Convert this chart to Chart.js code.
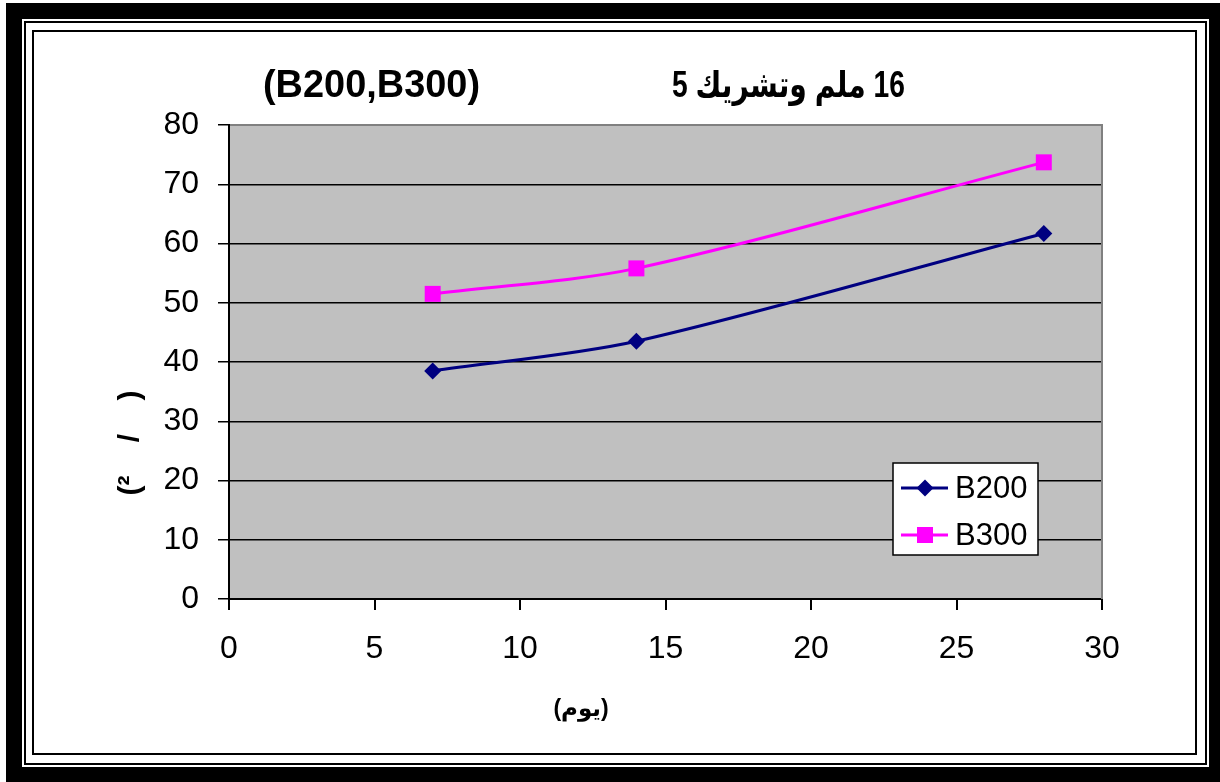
<!DOCTYPE html>
<html>
<head>
<meta charset="utf-8">
<script src="https://cdn.jsdelivr.net/npm/chart.js@4/dist/chart.umd.min.js"></script>
<style>
  html, body { margin: 0; padding: 0; background: #fff; }
  body { width: 1220px; height: 782px; position: relative; overflow: hidden; }
  .frame { position: absolute; box-sizing: border-box; border-style: solid; border-color: #000; }
  #outer { left: 6px; top: 3px; width: 1214px; height: 779px; border-width: 16px 11px 15px 16px; }
  #middle { left: 24px; top: 21px; width: 1183px; height: 744px; border-width: 2px; }
  #inner { left: 32px; top: 30px; width: 1165px; height: 725px; border-width: 2px; }
  canvas { position: absolute; left: 0; top: 0; }
</style>
</head>
<body>
<div class="frame" id="outer"></div>
<div class="frame" id="middle"></div>
<div class="frame" id="inner"></div>
<canvas id="c" width="1220" height="782"></canvas>
<script>
// Curing age (days) and strength readings for each mix
const days = [7, 14, 28];
const b200 = [38.5, 43.5, 61.7];
const b300 = [51.5, 55.8, 73.7];
const seriesNames = ['B200', 'B300'];

// Axis tick settings
const xTicks = [0, 5, 10, 15, 20, 25, 30];
const yTicks = [0, 10, 20, 30, 40, 50, 60, 70, 80];

// Text
const titleLatin = '(B200,B300)';
const titleArabic = '16 ملم وتشريك 5';
const xTitle = '(يوم)';
const yTitle = '(²    /    )';

const FONT = '"Liberation Sans", Arial, "DejaVu Sans", sans-serif';

const toPoints = (xs, ys) => xs.map((x, i) => ({ x, y: ys[i] }));

const decor = {
  id: 'decor',
  beforeDraw(chart) {
    const { ctx, chartArea: a } = chart;
    ctx.save();
    ctx.fillStyle = '#C0C0C0';
    ctx.fillRect(a.left, a.top, a.right - a.left, a.bottom - a.top);
    ctx.restore();
  },
  beforeDatasetsDraw(chart) {
    const { ctx, chartArea: a } = chart;
    ctx.save();
    ctx.strokeStyle = '#808080';
    ctx.lineWidth = 2;
    ctx.beginPath();
    ctx.moveTo(a.left + 1, a.top);
    ctx.lineTo(a.right, a.top);
    ctx.lineTo(a.right, a.bottom);
    ctx.stroke();
    ctx.restore();
  },
  afterDraw(chart) {
    const ctx = chart.ctx;
    ctx.save();
    ctx.fillStyle = '#000';

    // chart title, two parts
    ctx.font = 'bold 38px ' + FONT;
    ctx.textBaseline = 'alphabetic';
    ctx.direction = 'ltr';
    ctx.textAlign = 'left';
    ctx.fillText(titleLatin, 263, 97, 217);
    ctx.font = 'bold 36px ' + FONT;
    ctx.direction = 'rtl';
    ctx.textAlign = 'right';
    ctx.fillText(titleArabic, 905, 97, 233);
    ctx.direction = 'ltr';

    // x axis title
    ctx.font = 'bold 23px ' + FONT;
    ctx.textAlign = 'center';
    ctx.textBaseline = 'middle';
    ctx.fillText(xTitle, 581, 710, 56);

    // y axis title
    ctx.save();
    ctx.translate(139, 443);
    ctx.rotate(-Math.PI / 2);
    ctx.font = 'bold 30px ' + FONT;
    ctx.textAlign = 'center';
    ctx.textBaseline = 'alphabetic';
    ctx.fillText(yTitle, 0, 0);
    ctx.restore();

    // legend box
    const box = { x: 893, y: 463, w: 145, h: 92 };
    ctx.fillStyle = '#fff';
    ctx.fillRect(box.x, box.y, box.w, box.h);
    ctx.strokeStyle = '#000';
    ctx.lineWidth = 1.5;
    ctx.strokeRect(box.x, box.y, box.w, box.h);
    const rows = [488, 535];
    chart.data.datasets.forEach((ds, i) => {
      const y = rows[i];
      ctx.strokeStyle = ds.borderColor;
      ctx.lineWidth = 3;
      ctx.beginPath();
      ctx.moveTo(901, y);
      ctx.lineTo(948, y);
      ctx.stroke();
      ctx.fillStyle = ds.pointBackgroundColor;
      const cx = 925;
      if (ds.pointStyle === 'rectRot') {
        ctx.beginPath();
        ctx.moveTo(cx, y - 8.5);
        ctx.lineTo(cx + 8.5, y);
        ctx.lineTo(cx, y + 8.5);
        ctx.lineTo(cx - 8.5, y);
        ctx.closePath();
        ctx.fill();
      } else {
        ctx.fillRect(cx - 8, y - 8, 16, 16);
      }
      ctx.fillStyle = '#000';
      ctx.font = '31px ' + FONT;
      ctx.textAlign = 'left';
      ctx.textBaseline = 'middle';
      ctx.fillText(ds.label, 955, y + 1);
    });
    ctx.restore();
  }
};

new Chart(document.getElementById('c'), {
  type: 'scatter',
  data: {
    datasets: [
      {
        label: seriesNames[0],
        data: toPoints(days, b200),
        showLine: true,
        tension: 0.3,
        borderColor: '#000080',
        borderWidth: 3,
        pointStyle: 'rectRot',
        pointRadius: 8.5,
        pointBackgroundColor: '#000080',
        pointBorderColor: '#000080',
        pointBorderWidth: 0
      },
      {
        label: seriesNames[1],
        data: toPoints(days, b300),
        showLine: true,
        tension: 0.3,
        borderColor: '#FF00FF',
        borderWidth: 3,
        pointStyle: 'rect',
        pointRadius: 11.3,
        pointBackgroundColor: '#FF00FF',
        pointBorderColor: '#FF00FF',
        pointBorderWidth: 0
      }
    ]
  },
  options: {
    responsive: false,
    animation: false,
    layout: { padding: { left: 0, top: 125, right: 118, bottom: 0 } },
    plugins: {
      legend: { display: false },
      title: { display: false },
      tooltip: { enabled: false }
    },
    scales: {
      x: {
        type: 'linear',
        min: 0,
        max: 30,
        afterFit(scale) { scale.height = 183; },
        afterBuildTicks(scale) { scale.ticks = xTicks.map(v => ({ value: v })); },
        grid: { drawOnChartArea: false, drawTicks: true, tickLength: 11, color: '#000', lineWidth: 2 },
        border: { display: true, color: '#000', width: 2 },
        ticks: { color: '#000', padding: 20, font: { family: FONT, size: 32 } }
      },
      y: {
        type: 'linear',
        min: 0,
        max: 80,
        afterFit(scale) { scale.width = 229; },
        afterBuildTicks(scale) { scale.ticks = yTicks.map(v => ({ value: v })); },
        grid: { drawOnChartArea: true, drawTicks: true, tickLength: 11, color: '#000', lineWidth: 1.5 },
        border: { display: true, color: '#000', width: 2 },
        ticks: { color: '#000', padding: 19, font: { family: FONT, size: 32 } }
      }
    }
  },
  plugins: [decor]
});
</script>
</body>
</html>
